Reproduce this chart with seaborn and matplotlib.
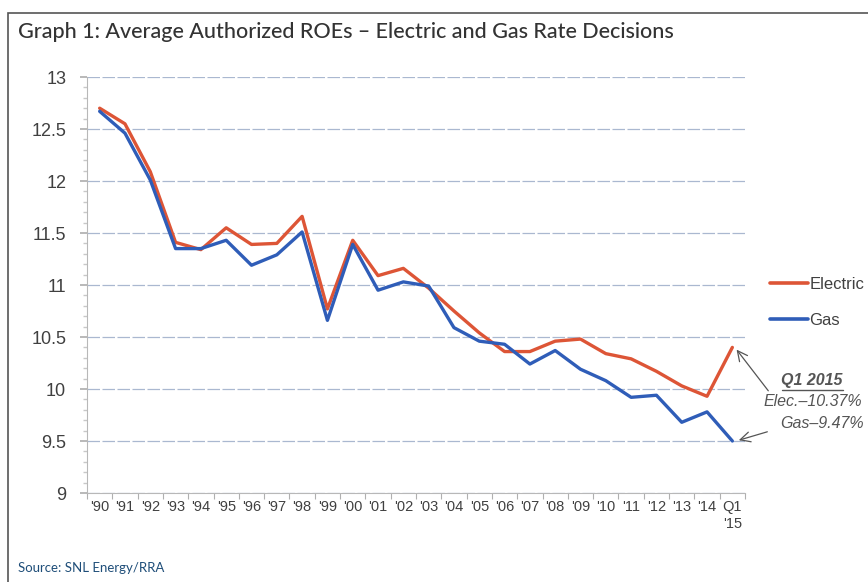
import matplotlib
matplotlib.use("Agg")
import matplotlib.pyplot as plt
import seaborn as sns
import pandas as pd
import numpy as np
from matplotlib.patches import Rectangle
from matplotlib.ticker import MultipleLocator
from matplotlib.lines import Line2D

periods = ["'90", "'91", "'92", "'93", "'94", "'95", "'96", "'97", "'98", "'99",
           "'00", "'01", "'02", "'03", "'04", "'05", "'06", "'07", "'08", "'09",
           "'10", "'11", "'12", "'13", "'14", "Q1\n'15"]
electric = [12.70, 12.55, 12.09, 11.41, 11.34, 11.55, 11.39, 11.40, 11.66, 10.77,
            11.43, 11.09, 11.16, 10.97, 10.75, 10.54, 10.36, 10.36, 10.46, 10.48,
            10.34, 10.29, 10.17, 10.03, 9.93, 10.40]
gas = [12.67, 12.46, 12.01, 11.35, 11.35, 11.43, 11.19, 11.29, 11.51, 10.66,
       11.39, 10.95, 11.03, 10.99, 10.59, 10.46, 10.43, 10.24, 10.37, 10.19,
       10.08, 9.92, 9.94, 9.68, 9.78, 9.50]
series_names = ["Electric", "Gas"]
yticks = [9, 9.5, 10, 10.5, 11, 11.5, 12, 12.5, 13]
ytick_labels = ["9", "9.5", "10", "10.5", "11", "11.5", "12", "12.5", "13"]

df = pd.DataFrame({
    "pos": list(range(len(periods))) * 2,
    "value": electric + gas,
    "series": [series_names[0]] * len(electric) + [series_names[1]] * len(gas),
})

sns.set_theme(style="white")
plt.rcParams["font.family"] = ["Liberation Sans", "DejaVu Sans"]

fig = plt.figure(figsize=(8.68, 5.82), dpi=100)
ax = fig.add_axes([87/868, (582-493)/582, (745-87)/868, (493-77)/582])

palette = {"Electric": "#DD5536", "Gas": "#2F5DB8"}
sns.lineplot(data=df, x="pos", y="value", hue="series", palette=palette,
             linewidth=2.4, sort=False, ax=ax, legend=False, zorder=3)

ax.set_xlim(-0.5, len(periods) - 0.5)
ax.set_ylim(9, 13)
ax.set_yticks(yticks)
ax.set_yticklabels(ytick_labels, fontsize=13, color="#404040")
ax.yaxis.set_minor_locator(MultipleLocator(0.1))
ax.set_xticks(range(len(periods)))
ax.set_xticklabels(periods, fontsize=10.5, color="#404040", linespacing=1.3)
ax.set_xticks(np.arange(-0.5, len(periods), 1), minor=True)
ax.tick_params(axis="x", which="major", length=0, pad=5)
ax.tick_params(axis="x", which="minor", length=4, color="#b0b0b0", width=0.8, bottom=True)
ax.tick_params(axis="y", which="major", length=5, color="#b0b0b0", pad=10, left=True)
ax.tick_params(axis="y", which="minor", length=3, color="#c8c8c8", left=True)
ax.set_xlabel("")
ax.set_ylabel("")
ax.grid(axis="y", which="major", color="#aab8d0", linewidth=0.9, linestyle=(0, (10, 2)))
for side in ["top", "right"]:
    ax.spines[side].set_visible(False)
ax.spines["left"].set_color("#b8b8b8")
ax.spines["bottom"].set_color("#b8b8b8")
ax.spines["left"].set_linewidth(0.8)
ax.spines["bottom"].set_linewidth(0.8)

# Legend
handles = [Line2D([], [], color=palette[n], linewidth=2.6) for n in series_names]
leg = fig.legend(handles, series_names, loc="upper left",
                 bbox_to_anchor=(770/868, 1 - 277/582), frameon=False,
                 borderpad=0, borderaxespad=0,
                 fontsize=12, handlelength=2.3, handletextpad=0.05,
                 labelspacing=1.25, labelcolor="#404040")

# Title & source
fig.text(18/868, 1 - 32/582, "Graph 1: Average Authorized ROEs \u2013 Electric and Gas Rate Decisions",
         fontsize=15.5, color="#333333", family=["Lato", "DejaVu Sans"],
         fontweight="medium", va="center", ha="left")
fig.text(18/868, 1 - 568/582, "Source: SNL Energy/RRA", fontsize=9.5,
         color="#1F4E79", family=["Lato", "DejaVu Sans"], va="center", ha="left")

# Frame
fig.patches.append(Rectangle((8/868, -0.02), 1.0, 1 - 13/582 + 0.02,
                             transform=fig.transFigure, fill=False,
                             edgecolor="#555555", linewidth=1.2))

# Annotation
ann_kw = dict(fontsize=11.5, color="#555555", style="italic", ha="center", va="center",
              transform=fig.transFigure)
fig.text(812/868, 1 - 381/582, "Q1 2015", fontweight="bold", **ann_kw)
fig.add_artist(Line2D([782/868, 843/868], [1 - 390/582, 1 - 390/582],
                      color="#555555", linewidth=1))
fig.text(813/868, 1 - 402/582, "Elec.\u201310.37%", **ann_kw)
fig.text(822/868, 1 - 424/582, "Gas\u20139.47%", **ann_kw)

last = len(periods) - 1
ax.annotate("", xy=(last + 0.1, electric[-1]), xycoords="data",
            xytext=(770/868, 1 - 393/582), textcoords="figure fraction",
            arrowprops=dict(arrowstyle="->", color="#555555", lw=0.9,
                            mutation_scale=18), annotation_clip=False)
ax.annotate("", xy=(last + 0.15, gas[-1]), xycoords="data",
            xytext=(770/868, 1 - 431/582), textcoords="figure fraction",
            arrowprops=dict(arrowstyle="->", color="#555555", lw=0.9,
                            mutation_scale=18), annotation_clip=False)

fig.savefig("out.png", dpi=100, facecolor="white")
